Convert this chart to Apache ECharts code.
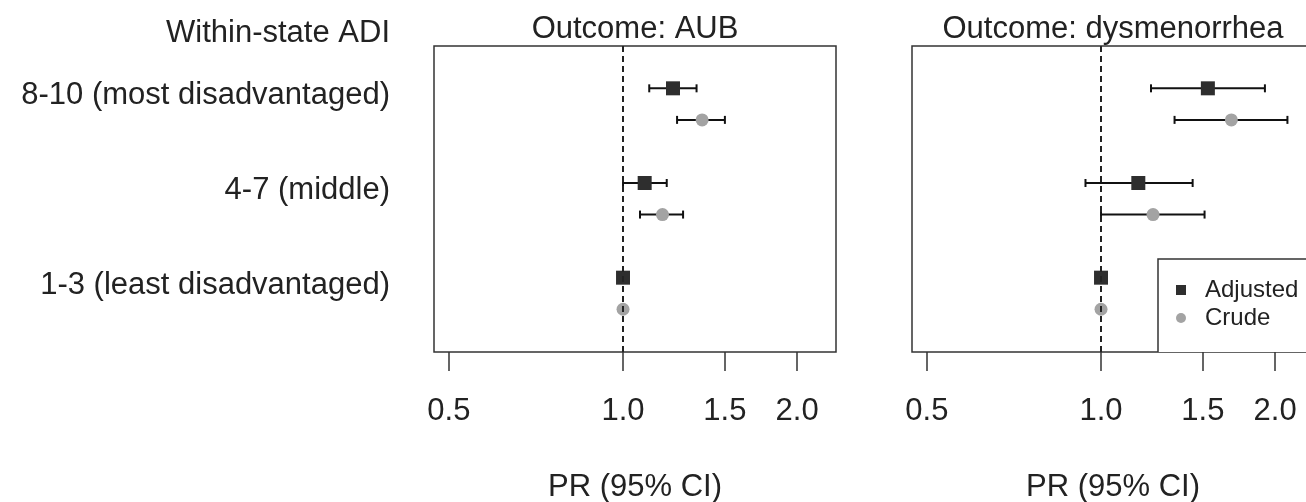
<!DOCTYPE html>
<html>
<head>
<meta charset="utf-8">
<script src="https://cdn.jsdelivr.net/npm/echarts@6/dist/echarts.min.js"></script>
<style>
  html, body { margin: 0; padding: 0; background: #fff; overflow: hidden; }
  #chart { width: 1306px; height: 502px; }
</style>
</head>
<body>
<div id="chart"></div>
<script>
// ---------- data ----------
const categories = ['8-10 (most disadvantaged)', '4-7 (middle)', '1-3 (least disadvantaged)'];
const panelTitles = ['Outcome: AUB', 'Outcome: dysmenorrhea'];
const seriesNames = ['Adjusted', 'Crude'];
const xTicks = [0.5, 1.0, 1.5, 2.0];
const xLimits = [0.5, 2.2];

// AUB
const aubAdjEst = [1.22, 1.09, 1.00];
const aubAdjLo  = [1.11, 1.00, null];
const aubAdjHi  = [1.34, 1.19, null];
const aubCrudeEst = [1.37, 1.17, 1.00];
const aubCrudeLo  = [1.24, 1.07, null];
const aubCrudeHi  = [1.50, 1.27, null];

// Dysmenorrhea
const dysAdjEst = [1.53, 1.16, 1.00];
const dysAdjLo  = [1.22, 0.94, null];
const dysAdjHi  = [1.92, 1.44, null];
const dysCrudeEst = [1.68, 1.23, 1.00];
const dysCrudeLo  = [1.34, 1.00, null];
const dysCrudeHi  = [2.10, 1.51, null];

// ---------- helpers ----------
const FONT = "'Liberation Sans', Arial, Helvetica, sans-serif";
const TXT = '#222';
const lg = v => Math.log10(v);
const xr = lg(xLimits[1]) - lg(xLimits[0]);
const xMin = lg(xLimits[0]) - 0.04 * xr;
const xMax = lg(xLimits[1]) + 0.04 * xr;
const nRows = categories.length;
const rowY = i => nRows - i;          // adjusted row position
const crudeShift = 1 / 3;            // crude drawn a third of a row lower
const labelShift = 0.08;
const yMin = 0.215, yMax = 3.447;

function pts(est, shift) {
  return est.map((v, i) => [lg(v), rowY(i) - shift]);
}
function bars(est, lo, hi, shift) {
  const out = [];
  est.forEach((v, i) => {
    if (lo[i] != null && hi[i] != null) out.push([lg(lo[i]), lg(hi[i]), rowY(i) - shift]);
  });
  return out;
}
function errRender(params, api) {
  const p1 = api.coord([api.value(0), api.value(2)]);
  const p2 = api.coord([api.value(1), api.value(2)]);
  const cap = 4;
  const st = { stroke: '#111', lineWidth: 2 };
  return {
    type: 'group',
    children: [
      { type: 'line', shape: { x1: p1[0], y1: p1[1], x2: p2[0], y2: p2[1] }, style: st },
      { type: 'line', shape: { x1: p1[0], y1: p1[1] - cap, x2: p1[0], y2: p1[1] + cap }, style: st },
      { type: 'line', shape: { x1: p2[0], y1: p2[1] - cap, x2: p2[0], y2: p2[1] + cap }, style: st }
    ]
  };
}

const panels = [
  { adj: [aubAdjEst, aubAdjLo, aubAdjHi], crude: [aubCrudeEst, aubCrudeLo, aubCrudeHi] },
  { adj: [dysAdjEst, dysAdjLo, dysAdjHi], crude: [dysCrudeEst, dysCrudeLo, dysCrudeHi] }
];

const grids = [
  { left: 434, top: 46, width: 402, height: 306 },
  { left: 912, top: 46, width: 402, height: 306 }
].map(g => Object.assign(g, {
  show: true, borderColor: '#333', borderWidth: 1.5, backgroundColor: 'transparent',
  containLabel: false, outerBoundsMode: 'none'
}));

const xAxes = grids.map((g, k) => ({
  type: 'value', gridIndex: k, min: xMin, max: xMax,
  axisLine: { show: false },
  splitLine: { show: false },
  axisTick: { show: true, length: 19, customValues: xTicks.map(lg), lineStyle: { color: '#333', width: 1.5 } },
  axisLabel: {
    show: true, customValues: xTicks.map(lg), margin: 44,
    formatter: v => Math.pow(10, v).toFixed(1),
    fontSize: 31, fontFamily: FONT, color: TXT
  },
  name: 'PR (95% CI)', nameLocation: 'middle', nameGap: 120,
  nameTextStyle: { fontSize: 31, fontFamily: FONT, color: TXT }
}));

const labelVals = categories.map((c, i) => rowY(i) - labelShift);
const yAxes = grids.map((g, k) => ({
  type: 'value', gridIndex: k, min: yMin, max: yMax,
  axisLine: { show: false }, axisTick: { show: false }, splitLine: { show: false },
  axisLabel: k === 0 ? {
    show: true, customValues: labelVals, margin: 44,
    formatter: v => {
      const i = labelVals.findIndex(t => Math.abs(t - v) < 0.01);
      return i >= 0 ? categories[i] : '';
    },
    fontSize: 31, fontFamily: FONT, color: TXT
  } : { show: false }
}));

const series = [];
panels.forEach((p, k) => {
  series.push({
    type: 'custom', xAxisIndex: k, yAxisIndex: k, renderItem: errRender,
    data: bars(p.adj[0], p.adj[1], p.adj[2], 0), z: 2, silent: true,
    markLine: {
      silent: true, symbol: ['none', 'none'], label: { show: false },
      lineStyle: { type: [6, 4], color: '#222', width: 2 },
      data: [{ xAxis: lg(1) }]
    }
  });
  series.push({
    type: 'custom', xAxisIndex: k, yAxisIndex: k, renderItem: errRender,
    data: bars(p.crude[0], p.crude[1], p.crude[2], crudeShift), z: 2, silent: true
  });
  series.push({
    name: seriesNames[0], type: 'scatter', xAxisIndex: k, yAxisIndex: k,
    symbol: 'rect', symbolSize: 14, itemStyle: { color: '#2e2e2e', opacity: 1 },
    data: pts(p.adj[0], 0), z: 3
  });
  series.push({
    name: seriesNames[1], type: 'scatter', xAxisIndex: k, yAxisIndex: k,
    symbol: 'circle', symbolSize: 13, itemStyle: { color: '#a3a3a3', opacity: 1 },
    data: pts(p.crude[0], crudeShift), z: 3
  });
});

const chart = echarts.init(document.getElementById('chart'), null, { renderer: 'canvas' });
chart.setOption({
  animation: false,
  backgroundColor: '#fff',
  textStyle: { fontFamily: FONT },
  grid: grids,
  xAxis: xAxes,
  yAxis: yAxes,
  legend: {
    data: seriesNames, orient: 'vertical', left: 1158, top: 259,
    padding: [19, 20, 22, 18], itemGap: 4, itemWidth: 10, itemHeight: 10,
    borderWidth: 0, backgroundColor: 'transparent',
    selectedMode: false, z: 10,
    textStyle: { fontSize: 24, lineHeight: 24, fontFamily: FONT, color: TXT, padding: [0, 0, 0, 14] }
  },
  graphic: [
    // legend frame: its right side runs off the picture, as in the reference
    { type: 'rect', z: 5, shape: { x: 1158, y: 259, width: 220, height: 93 },
      style: { fill: '#fff', stroke: null, lineWidth: 0 } },
    { type: 'polyline', z: 6, shape: { points: [[1400, 259], [1158, 259], [1158, 352]] },
      style: { fill: null, stroke: '#333', lineWidth: 1.5 } },
    { type: 'text', x: 390, y: 33, style: { text: 'Within-state ADI', font: '31px ' + FONT, fill: TXT, textAlign: 'right', textVerticalAlign: 'middle' } },
    { type: 'text', x: 635, y: 29, style: { text: panelTitles[0], font: '31px ' + FONT, fill: TXT, textAlign: 'center', textVerticalAlign: 'middle' } },
    { type: 'text', x: 1113, y: 29, style: { text: panelTitles[1], font: '31px ' + FONT, fill: TXT, textAlign: 'center', textVerticalAlign: 'middle' } }
  ],
  series: series
});
</script>
</body>
</html>
